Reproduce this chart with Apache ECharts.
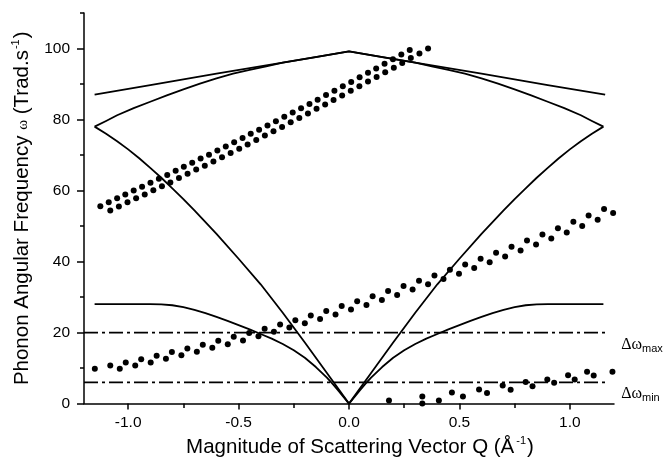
<!DOCTYPE html>
<html>
<head>
<meta charset="utf-8">
<script src="https://cdn.jsdelivr.net/npm/echarts@6/dist/echarts.min.js"></script>
<style>
  html, body { margin: 0; padding: 0; background: #fff; }
  #chart { width: 664px; height: 463px; }
</style>
</head>
<body>
<div id="chart"></div>
<script>
// ---- axis ticks and labels ----
const X_LABELS = [-1.0, -0.5, 0.0, 0.5, 1.0];
const X_MINOR_TICKS = [-0.75, -0.25, 0.25, 0.75];
const Y_LABELS = [0, 20, 40, 60, 80, 100];
const Y_MINOR_TICKS = [10, 30, 50, 70, 90, 110];

// ---- dispersion branches: [Q, omega] ----
const branchTop = [
  [-1.152, 87.0], [-0.9, 89.7], [-0.6, 92.9], [-0.3, 96.0], [0, 99.2],
  [0.3, 96.0], [0.6, 92.9], [0.9, 89.7], [1.16, 87.0]
];
const branchUpperOptical = [
  [-1.152, 78.0], [-1.1, 79.6], [-1.05, 81.2], [-0.975, 83.2], [-0.9, 85.0],
  [-0.825, 86.8], [-0.75, 88.5], [-0.675, 90.1], [-0.6, 91.6], [-0.525, 92.9],
  [-0.45, 94.0], [-0.375, 95.0], [-0.3, 96.0], [-0.15, 97.6], [0, 99.2],
  [0.15, 97.6], [0.3, 96.0], [0.375, 95.0], [0.45, 94.0], [0.525, 92.9],
  [0.6, 91.6], [0.675, 90.1], [0.75, 88.5], [0.825, 86.8], [0.9, 85.0],
  [0.975, 83.2], [1.05, 81.2], [1.1, 79.6], [1.152, 78.0]
];
const branchAcoustic = [
  [-1.152, 78.0], [-1.1, 76.0], [-1.05, 73.9], [-1.0, 71.6], [-0.95, 69.1],
  [-0.9, 66.4], [-0.85, 63.6], [-0.8, 60.6], [-0.75, 57.6], [-0.7, 54.4],
  [-0.6, 47.8], [-0.5, 40.8], [-0.4, 33.6], [-0.3, 25.6],
  [-0.2, 17.2], [-0.1, 8.6], [0, 0],
  [0.1, 8.6], [0.2, 17.2], [0.3, 25.6], [0.4, 33.6], [0.5, 40.8],
  [0.6, 47.8], [0.7, 54.4], [0.75, 57.6], [0.8, 60.6], [0.85, 63.6],
  [0.9, 66.4], [0.95, 69.1], [1.0, 71.6], [1.05, 73.9], [1.1, 76.0],
  [1.152, 78.0]
];
const branchLowerOptical = [
  [-1.152, 28.0], [-0.9, 28.0], [-0.85, 27.95], [-0.8, 27.7], [-0.75, 27.2],
  [-0.7, 26.4], [-0.65, 25.5], [-0.6, 24.4], [-0.55, 23.3], [-0.5, 22.1],
  [-0.45, 20.9], [-0.4, 19.6], [-0.35, 18.3], [-0.3, 16.8], [-0.25, 15.0],
  [-0.2, 12.9], [-0.15, 10.3], [-0.1, 7.3], [-0.075, 5.6], [-0.05, 3.8],
  [-0.025, 1.9], [0, 0],
  [0.025, 1.9], [0.05, 3.8], [0.075, 5.6], [0.1, 7.3], [0.15, 10.3],
  [0.2, 12.9], [0.25, 15.0], [0.3, 16.8], [0.35, 18.3], [0.4, 19.6],
  [0.45, 20.9], [0.5, 22.1], [0.55, 23.3], [0.6, 24.4], [0.65, 25.5],
  [0.7, 26.4], [0.75, 27.2], [0.8, 27.7], [0.85, 27.95], [0.9, 28.0],
  [1.152, 28.0]
];

// ---- scattering kinematics (dotted) : [Q, omega] ----
const upperRowA = [
  [-1.126, 55.6], [-1.088, 56.7], [-1.050, 57.8], [-1.013, 58.9], [-0.975, 60.0],
  [-0.937, 61.1], [-0.899, 62.2], [-0.861, 63.3], [-0.823, 64.4], [-0.785, 65.6],
  [-0.748, 66.7], [-0.710, 67.8], [-0.672, 69.0], [-0.634, 70.1], [-0.596, 71.3],
  [-0.558, 72.4], [-0.520, 73.6], [-0.482, 74.8], [-0.445, 76.0], [-0.407, 77.1],
  [-0.369, 78.3], [-0.331, 79.5], [-0.293, 80.8], [-0.255, 82.0], [-0.217, 83.2],
  [-0.179, 84.4], [-0.142, 85.6], [-0.104, 86.9], [-0.066, 88.1], [-0.028, 89.4],
  [0.010, 90.6], [0.048, 91.9], [0.086, 93.2], [0.123, 94.4], [0.161, 95.7],
  [0.199, 97.0], [0.237, 98.3], [0.275, 99.6]
];
const upperRowB = [
  [-1.081, 54.4], [-1.042, 55.5], [-1.003, 56.7], [-0.964, 57.8], [-0.925, 58.9],
  [-0.886, 60.1], [-0.847, 61.2], [-0.809, 62.3], [-0.770, 63.5], [-0.731, 64.7],
  [-0.692, 65.9], [-0.653, 67.0], [-0.614, 68.2], [-0.575, 69.4], [-0.536, 70.6],
  [-0.497, 71.8], [-0.459, 73.0], [-0.420, 74.2], [-0.381, 75.5], [-0.342, 76.7],
  [-0.303, 77.9], [-0.264, 79.2], [-0.225, 80.4], [-0.186, 81.7], [-0.147, 83.0],
  [-0.108, 84.2], [-0.070, 85.5], [-0.031, 86.8], [0.008, 88.1], [0.047, 89.4],
  [0.086, 90.7], [0.125, 92.0], [0.164, 93.3], [0.203, 94.6], [0.241, 95.9],
  [0.280, 97.3], [0.319, 98.6], [0.358, 100.0]
];
const lowerRowA = [
  [-1.151, 9.8], [-1.081, 10.7], [-1.011, 11.6], [-0.941, 12.5], [-0.871, 13.5],
  [-0.802, 14.5], [-0.732, 15.5], [-0.662, 16.6], [-0.592, 17.7], [-0.522, 18.8],
  [-0.452, 19.9], [-0.382, 21.1], [-0.312, 22.3], [-0.243, 23.5], [-0.173, 24.8],
  [-0.103, 26.1], [-0.033, 27.5], [0.037, 28.8], [0.107, 30.2], [0.177, 31.7],
  [0.247, 33.1], [0.317, 34.6], [0.387, 36.1], [0.457, 37.7], [0.526, 39.2],
  [0.596, 40.8], [0.666, 42.5], [0.736, 44.2], [0.806, 45.9], [0.876, 47.6],
  [0.946, 49.4], [1.016, 51.2], [1.085, 53.0], [1.155, 54.8]
];
const lowerRowB = [
  [-1.038, 9.8], [-0.968, 10.7], [-0.898, 11.6], [-0.829, 12.6], [-0.759, 13.6],
  [-0.689, 14.6], [-0.619, 15.7], [-0.549, 16.7], [-0.480, 17.8], [-0.410, 19.0],
  [-0.340, 20.2], [-0.270, 21.4], [-0.200, 22.6], [-0.131, 23.8], [-0.061, 25.1],
  [0.009, 26.5], [0.079, 27.8], [0.149, 29.2], [0.218, 30.6], [0.288, 32.1],
  [0.358, 33.6], [0.428, 35.1], [0.498, 36.6], [0.567, 38.2], [0.637, 39.8],
  [0.707, 41.4], [0.777, 43.1], [0.847, 44.8], [0.916, 46.5], [0.986, 48.2],
  [1.056, 50.0], [1.126, 51.8], [1.196, 53.7]
];
const bottomRowA = [
  [0.181, 0.9], [0.332, 2.0], [0.466, 3.1], [0.589, 4.0], [0.696, 5.1],
  [0.800, 6.1], [0.898, 6.8], [0.992, 8.0], [1.078, 9.0], [1.193, 9.0]
];
const bottomRowB = [
  [0.332, 0.0], [0.407, 0.9], [0.516, 2.0], [0.625, 3.0], [0.732, 3.9],
  [0.831, 4.9], [0.929, 5.9], [1.022, 6.8], [1.108, 7.9]
];

// ---- resolution limits ----
const DELTA_OMEGA = [20, 6];
const DELTA_OMEGA_SUB = ['max', 'min'];
const DELTA_Q_RANGE = [-1.2, 1.16];

const SANS = 'Liberation Sans, Arial, Helvetica, sans-serif';
const SERIF = 'Liberation Serif, Times New Roman, serif';
const INK = '#000';

function branch(data) {
  return {
    type: 'line', data: data, xAxisIndex: 0, yAxisIndex: 0,
    showSymbol: false, symbol: 'none', smooth: false, silent: true,
    lineStyle: { color: INK, width: 1.8, join: 'round' }, z: 3
  };
}
function dots(data) {
  return {
    type: 'scatter', data: data, xAxisIndex: 0, yAxisIndex: 0,
    symbol: 'circle', symbolSize: 6, silent: true,
    itemStyle: { color: INK, opacity: 1 }, z: 4
  };
}
function limit(i) {
  return {
    type: 'line', xAxisIndex: 0, yAxisIndex: 0, silent: true,
    data: [[DELTA_Q_RANGE[0], DELTA_OMEGA[i]], [DELTA_Q_RANGE[1], DELTA_OMEGA[i]]],
    showSymbol: false, symbol: 'none',
    lineStyle: { color: INK, width: 1.8, type: [14, 4, 3, 4] },
    endLabel: {
      show: true,
      formatter: '{d|\u0394\u03c9}{s|' + DELTA_OMEGA_SUB[i] + '}',
      offset: [8, 12],
      rich: {
        d: { fontFamily: SERIF, fontSize: 16, color: INK, lineHeight: 18 },
        s: { fontFamily: SANS, fontSize: 11, color: INK, verticalAlign: 'bottom', padding: [8, 0, 0, 0] }
      }
    },
    z: 2
  };
}

const chart = echarts.init(document.getElementById('chart'), null, { renderer: 'canvas' });

const axisLineStyle = { color: INK, width: 1.5 };

chart.setOption({
  animation: false,
  backgroundColor: '#fff',
  textStyle: { fontFamily: SANS },
  grid: { left: 84, right: 50, top: 13, bottom: 59, containLabel: false },
  xAxis: [
    {
      type: 'value', min: -1.2, max: 1.2, position: 'bottom',
      axisLine: { onZero: false, lineStyle: axisLineStyle },
      axisTick: { customValues: X_LABELS, length: 6, lineStyle: axisLineStyle },
      axisLabel: {
        customValues: X_LABELS, fontSize: 15.5, color: INK, margin: 11,
        formatter: v => v.toFixed(1)
      },
      splitLine: { show: false },
      name: '{t|Magnitude of Scattering Vector Q (\u00c5}{sup|-1}{t|)}',
      nameLocation: 'middle', nameGap: 30,
      nameTextStyle: {
        padding: [0, 0, 0, 22],
        rich: {
          t: { fontFamily: SANS, fontSize: 20.5, color: INK, lineHeight: 24 },
          sup: { fontFamily: SANS, fontSize: 11, color: INK, verticalAlign: 'top', padding: [0, 1, 5, 2] }
        }
      }
    },
    {
      type: 'value', min: -1.2, max: 1.2, position: 'bottom',
      axisLine: { show: false, onZero: false },
      axisTick: { customValues: X_MINOR_TICKS, length: 4.5, lineStyle: axisLineStyle },
      axisLabel: { show: false },
      splitLine: { show: false }
    }
  ],
  yAxis: [
    {
      type: 'value', min: 0, max: 110, position: 'left',
      axisLine: { show: true, onZero: false, lineStyle: axisLineStyle },
      axisTick: { customValues: Y_LABELS, length: 7, lineStyle: axisLineStyle },
      axisLabel: { customValues: Y_LABELS, fontSize: 15.5, color: INK, margin: 14 },
      splitLine: { show: false },
      name: '{t|Phonon Angular Frequency }{w|\u03c9}{t| (Trad.s}{sup|-1}{t|)}',
      nameLocation: 'middle', nameGap: 41, nameRotate: 90,
      nameTextStyle: {
        rich: {
          t: { fontFamily: SANS, fontSize: 20.5, color: INK, lineHeight: 24 },
          w: { fontFamily: SERIF, fontSize: 15, color: INK },
          sup: { fontFamily: SANS, fontSize: 11, color: INK, verticalAlign: 'top', padding: [0, 1, 6, 1] }
        }
      }
    },
    {
      type: 'value', min: 0, max: 110, position: 'left',
      axisLine: { show: false, onZero: false },
      axisTick: { customValues: Y_MINOR_TICKS, length: 4, lineStyle: axisLineStyle },
      axisLabel: { show: false },
      splitLine: { show: false }
    }
  ],
  series: [
    branch(branchTop),
    branch(branchUpperOptical),
    branch(branchAcoustic),
    branch(branchLowerOptical),
    limit(0),
    limit(1),
    dots(upperRowA),
    dots(upperRowB),
    dots(lowerRowA),
    dots(lowerRowB),
    dots(bottomRowA),
    dots(bottomRowB)
  ]
});
</script>
</body>
</html>
